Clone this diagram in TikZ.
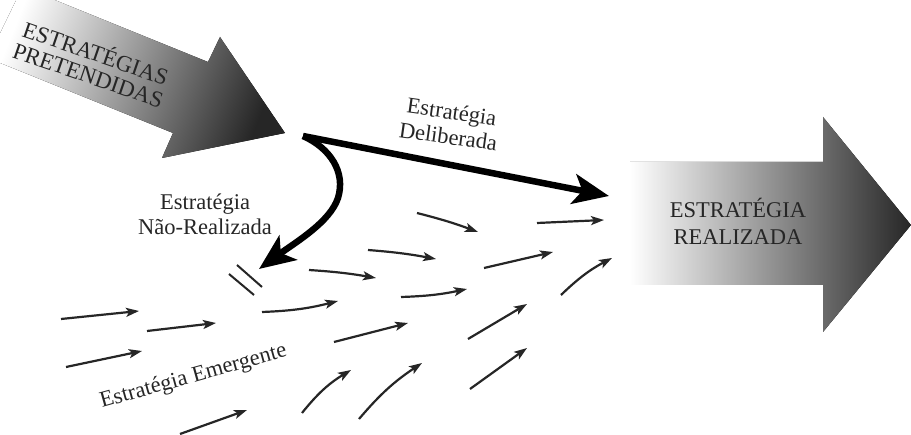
\documentclass[tikz,border=0pt]{standalone}
\usepackage{fontspec}
\setmainfont{Liberation Serif}
\usetikzlibrary{arrows.meta}

\begin{document}
\begin{tikzpicture}[
    x=1pt, y=-1pt,
    label/.style={align=center, text=black!85, inner sep=0pt, font=\fontsize{22.5}{25}\selectfont},
    bigarrow/.style={draw=none, left color=white, right color=black!85},
    mainpath/.style={line width=6.5pt, black, -{Stealth[length=36pt, width=30pt, inset=9pt]}},
    drift/.style={line width=2.2pt, black!85, -{Stealth[length=13pt, width=9pt, inset=3pt]}},
    cut/.style={line width=2pt, black!85}
]
\useasboundingbox (0,0) rectangle (911,435);

% Intended strategy arrow
\fill[bigarrow, shading angle=68] (22.6,-13) -- (208,62) -- (220,37) -- (285,133)
    -- (162,158) -- (173,133) -- (-12,58) -- cycle;
\node[label, rotate=-19, font=\fontsize{23}{23}\selectfont] (intended) at (92.5,62.5) {ESTRAT\'EGIAS\\PRETENDIDAS};

% Realized strategy arrow
\fill[bigarrow] (630,162) -- (823,162) -- (823,117) -- (911,225)
    -- (823,332) -- (823,285) -- (630,285) -- cycle;
\node[label, font=\fontsize{22.5}{27}\selectfont] (realized) at (738,221) {ESTRAT\'EGIA\\REALIZADA};

% Deliberate and unrealized paths
\coordinate (fork) at (303,136);
\coordinate (deliberate) at (609,196);
\coordinate (unrealized) at (259,269);
\draw[mainpath] (fork) -- (deliberate);
\draw[mainpath] (fork) .. controls (330,148) and (346,172) .. (338,198)
    .. controls (330,222) and (296,242) .. (unrealized);
\node[label, rotate=-8] (deliberada) at (450,124) {Estrat\'egia\\Deliberada};
\node[label] (naorealizada) at (205,214) {Estrat\'egia\\N\~ao-Realizada};

% Blocked mark
\draw[cut] (229,274) -- (254,295);
\draw[cut] (237,265) -- (262,287);

% Emergent strategy
\draw[drift] (61,319) -- (139,311);
\draw[drift] (147,331) -- (216,323);
\draw[drift] (66,367) -- (142,351);
\draw[drift] (180,434) -- (247,410);
\draw[drift] (262,312) to[bend right=6] (338,301);
\draw[drift] (309,270) to[bend left=3] (376,278);
\draw[drift] (368,250) to[bend left=3] (436,259);
\draw[drift] (417,213) to[bend left=3] (478,232);
\draw[drift] (401,297) to[bend right=5] (467,289);
\draw[drift] (334,342) -- (408,323);
\draw[drift] (302,413) to[bend left=10] (351,370);
\draw[drift] (359,419) to[bend left=8] (422,363);
\draw[drift] (484,268) -- (553,252);
\draw[drift] (537,223) -- (604,220);
\draw[drift] (561,295) to[bend left=8] (612,258);
\draw[drift] (468,339) -- (527,304);
\draw[drift] (470,389) -- (527,348);
\node[label, rotate=15.6, anchor=base west] (emergente) at (102,408) {Estrat\'egia Emergente};

\end{tikzpicture}
\end{document}
